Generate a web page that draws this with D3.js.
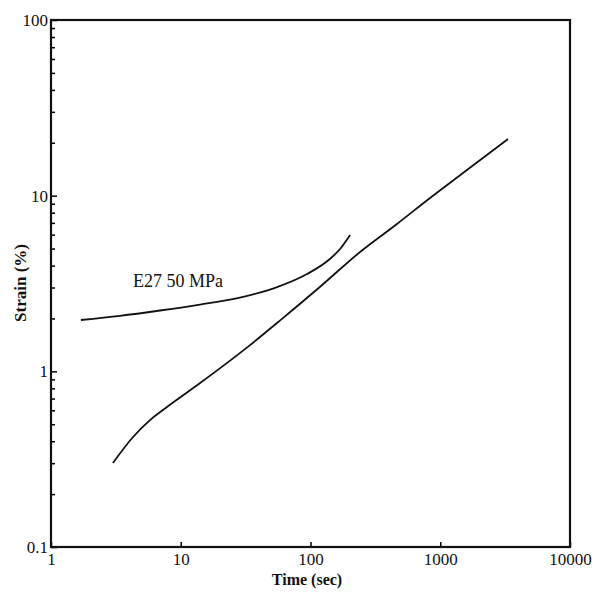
<!DOCTYPE html>
<html>
<head>
<meta charset="utf-8">
<script src="https://cdnjs.cloudflare.com/ajax/libs/d3/7.8.5/d3.min.js"></script>
<style>
  body { margin: 0; background: #fff; }
  svg { display: block; }
  text { font-family: "Liberation Serif", "Times New Roman", serif; fill: #111; }
</style>
</head>
<body>
<div id="chart"></div>
<script>
// values (time in sec, strain in %)
var upperTime   = [1.70, 3.40, 6.92, 14.1, 28.6, 51.4, 94.0, 141, 169, 202];
var upperStrain = [1.96, 2.07, 2.22, 2.40, 2.63, 2.96, 3.58, 4.36, 4.97, 5.97];
var lowerTime   = [3.0, 4.29, 5.79, 7.83, 14.1, 34.2, 60.3, 118, 241, 464, 834, 1497, 3329];
var lowerStrain = [0.301, 0.423, 0.528, 0.627, 0.858, 1.41, 1.99, 3.02, 4.78, 6.90, 9.70, 13.46, 21.0];
var xTicks = [1, 10, 100, 1000, 10000];
var yTicks = [0.1, 1, 10, 100];
var curveLabel = "E27 50 MPa";

var W = 594, H = 595;
// plot box (note: "top" is taken by window.top, so use a margin object)
var box = {left: 51, right: 570, top: 20, bottom: 547};

var svg = d3.select('#chart').append('svg')
    .attr('width', W)
    .attr('height', H);

var x = d3.scaleLog().domain([1, 10000]).range([box.left, box.right]);
var y = d3.scaleLog().domain([0.1, 100]).range([box.bottom, box.top]);

// minor y ticks (2..9 in each decade), pointing inward
var yMinor = [];
for (var d = 0.1; d < 100; d *= 10) {
    for (var k = 2; k <= 9; k++) yMinor.push(+(d * k).toPrecision(3));
}
svg.append('g')
    .attr('transform', 'translate(' + box.left + ',0)')
    .call(d3.axisLeft(y).tickValues(yMinor).tickSizeInner(-4).tickSizeOuter(0).tickFormat(''))
    .call(function (g) { g.select('.domain').remove(); })
    .selectAll('line').attr('stroke-width', 1.5);

var yAxis = svg.append('g')
    .attr('transform', 'translate(' + box.left + ',0)')
    .call(d3.axisLeft(y).tickValues(yTicks).tickSizeInner(-6).tickSizeOuter(0).tickPadding(3)
        .tickFormat(function (d) { return d < 1 ? '0.1' : d3.format('d')(d); }));
yAxis.select('.domain').remove();
yAxis.selectAll('line').attr('stroke-width', 1.5);
yAxis.selectAll('text').style('font-size', '17px').attr('fill', '#111');

var xAxis = svg.append('g')
    .attr('transform', 'translate(0,' + box.bottom + ')')
    .call(d3.axisBottom(x).tickValues(xTicks).tickSizeInner(-5).tickSizeOuter(0).tickPadding(6)
        .tickFormat(d3.format('d')));
xAxis.select('.domain').remove();
xAxis.selectAll('line').attr('stroke-width', 1.5);
xAxis.selectAll('text').style('font-size', '17px').attr('fill', '#111');

// frame
svg.append('rect')
    .attr('x', box.left).attr('y', box.top)
    .attr('width', box.right - box.left).attr('height', box.bottom - box.top)
    .attr('fill', 'none').attr('stroke', '#111').attr('stroke-width', 2.2);

var line = d3.line()
    .x(function (d) { return x(d[0]); })
    .y(function (d) { return y(d[1]); })
    .curve(d3.curveMonotoneX);

svg.append('path')
    .datum(d3.zip(upperTime, upperStrain))
    .attr('d', line)
    .attr('fill', 'none').attr('stroke', '#111').attr('stroke-width', 1.8);

svg.append('path')
    .datum(d3.zip(lowerTime, lowerStrain))
    .attr('d', line)
    .attr('fill', 'none').attr('stroke', '#111').attr('stroke-width', 1.8);

svg.append('text')
    .attr('x', 133).attr('y', 287)
    .style('font-size', '18px')
    .text(curveLabel);

svg.append('text')
    .attr('x', 307).attr('y', 585)
    .attr('text-anchor', 'middle')
    .style('font-size', '16px').style('font-weight', 'bold')
    .text('Time (sec)');

svg.append('text')
    .attr('transform', 'translate(26,283) rotate(-90)')
    .attr('text-anchor', 'middle')
    .style('font-size', '17px').style('font-weight', 'bold')
    .text('Strain (%)');
</script>
</body>
</html>
